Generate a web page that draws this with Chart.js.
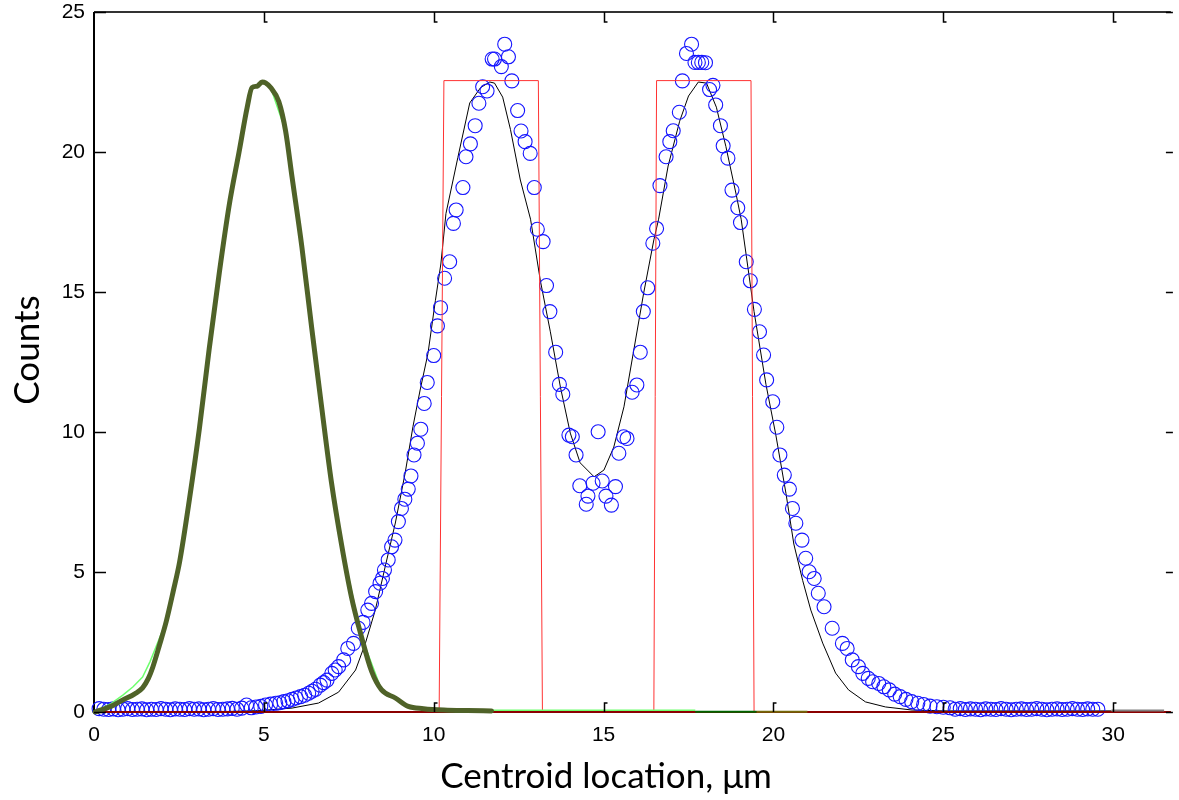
<!DOCTYPE html>
<html>
<head>
<meta charset="utf-8">
<title>Centroid location histogram</title>
<script src="https://cdn.jsdelivr.net/npm/chart.js@4.4.1/dist/chart.umd.min.js"></script>
<style>
  html, body { margin: 0; padding: 0; background: #fff; }
</style>
</head>
<body>
<canvas id="centroid-chart" width="1179" height="800"></canvas>
<script>
// measured counts per centroid bin [location um, counts]
const measured = [
  [0.15,0.12],[0.29,0.1],[0.43,0.09],[0.57,0.11],[0.71,0.08],[0.85,0.1],[0.99,0.12],
  [1.13,0.09],[1.27,0.1],[1.41,0.11],[1.55,0.08],[1.69,0.1],[1.83,0.09],[1.97,0.12],
  [2.11,0.1],[2.25,0.08],[2.39,0.11],[2.53,0.1],[2.67,0.09],[2.81,0.12],[2.95,0.1],
  [3.09,0.11],[3.23,0.08],[3.37,0.1],[3.51,0.12],[3.65,0.09],[3.79,0.1],[3.93,0.11],
  [4.07,0.13],[4.21,0.1],[4.35,0.14],[4.49,0.25],[4.63,0.15],[4.77,0.18],[4.91,0.2],
  [5.05,0.25],[5.2,0.28],[5.35,0.31],[5.47,0.33],[5.59,0.37],[5.71,0.4],[5.83,0.45],
  [5.95,0.5],[6.08,0.55],[6.2,0.6],[6.32,0.67],[6.42,0.74],[6.52,0.81],[6.66,0.96],
  [6.76,1.05],[6.86,1.14],[7.0,1.38],[7.1,1.5],[7.2,1.62],[7.35,1.86],[7.47,2.27],
  [7.64,2.45],[7.78,2.99],[7.92,3.2],[8.06,3.64],[8.17,3.88],[8.29,4.3],[8.42,4.6],
  [8.49,4.77],[8.55,5.07],[8.66,5.43],[8.76,5.9],[8.86,6.14],[8.96,6.8],[9.05,7.27],
  [9.15,7.6],[9.25,7.96],[9.33,8.43],[9.42,9.18],[9.52,9.6],[9.62,10.1],[9.72,11.02],
  [9.81,11.77],[10.0,12.73],[10.11,13.79],[10.2,14.44],[10.32,15.49],[10.47,16.08],
  [10.58,17.45],[10.66,17.93],[10.86,18.73],[10.95,19.83],[11.08,20.29],[11.22,20.94],
  [11.33,21.74],[11.44,22.33],[11.57,22.18],[11.72,23.32],[11.79,23.32],[11.99,23.05],
  [12.09,23.85],[12.2,23.4],[12.3,22.54],[12.47,21.48],[12.57,20.75],[12.69,20.37],
  [12.84,19.95],[12.96,18.73],[13.05,17.24],[13.22,16.8],[13.32,15.23],[13.42,14.3],
  [13.59,12.85],[13.7,11.7],[13.8,11.35],[13.98,9.89],[14.08,9.83],[14.19,9.18],
  [14.3,8.08],[14.49,7.42],[14.54,7.71],[14.69,8.17],[14.84,10.01],[14.96,8.25],
  [15.07,7.71],[15.23,7.39],[15.35,8.05],[15.45,9.24],[15.59,9.83],[15.69,9.77],
  [15.84,11.42],[15.98,11.68],[16.08,12.85],[16.17,14.3],[16.3,15.15],[16.45,16.74],
  [16.56,17.27],[16.66,18.8],[16.84,19.83],[16.95,20.37],[17.05,20.76],[17.23,21.42],
  [17.32,22.54],[17.44,23.52],[17.59,23.85],[17.69,23.2],[17.79,23.2],[17.89,23.2],
  [18.0,23.19],[18.12,22.23],[18.22,22.38],[18.3,21.68],[18.44,20.94],[18.52,20.22],
  [18.66,19.78],[18.78,18.64],[18.95,18.01],[19.03,17.48],[19.2,16.08],[19.32,15.4],
  [19.44,14.38],[19.59,13.58],[19.71,12.75],[19.8,11.86],[19.98,11.08],[20.1,10.17],
  [20.19,9.18],[20.32,8.46],[20.47,7.96],[20.56,7.27],[20.66,6.74],[20.84,6.14],
  [20.95,5.49],[21.05,5.01],[21.2,4.77],[21.32,4.24],[21.49,3.76],[21.73,2.99],
  [22.03,2.45],[22.17,2.27],[22.32,1.86],[22.5,1.62],[22.63,1.38],[22.79,1.2],
  [22.92,1.08],[23.1,1.02],[23.25,0.9],[23.41,0.79],[23.57,0.64],[23.73,0.55],
  [23.9,0.45],[24.07,0.37],[24.25,0.31],[24.42,0.27],[24.61,0.21],[24.81,0.19],
  [25.0,0.17],[25.2,0.15],[25.35,0.1],[25.5,0.12],[25.65,0.09],[25.8,0.11],[25.95,0.1],
  [26.1,0.08],[26.25,0.11],[26.4,0.1],[26.55,0.09],[26.7,0.12],[26.85,0.1],[27.0,0.08],
  [27.15,0.1],[27.3,0.11],[27.45,0.09],[27.6,0.1],[27.75,0.12],[27.9,0.1],[28.05,0.08],
  [28.2,0.1],[28.35,0.11],[28.5,0.09],[28.65,0.1],[28.8,0.12],[28.95,0.1],[29.1,0.09],
  [29.25,0.11],[29.4,0.1],[29.55,0.1]
];

// fitted double-peak profile
const fitCurve = [
  [0,0.01],[4.0,0.02],[4.86,0.05],[5.83,0.14],[6.61,0.32],[7.2,0.71],[7.7,1.5],
  [7.99,2.46],[8.28,3.64],[8.57,5.18],[8.87,6.75],[9.16,8.54],[9.39,10.2],[9.6,11.5],
  [9.83,12.8],[10.05,14.7],[10.21,16.0],[10.36,17.8],[10.71,19.8],[11.06,21.75],
  [11.38,22.3],[11.65,22.5],[11.79,22.46],[12.03,21.96],[12.26,20.8],[12.55,19.0],
  [12.85,17.6],[13.14,15.4],[13.43,13.6],[13.73,11.6],[14.02,9.96],[14.31,8.9],
  [14.72,8.4],[15.01,8.64],[15.3,9.46],[15.6,10.9],[15.9,13.0],[16.18,14.96],
  [16.48,16.86],[16.62,17.6],[16.9,19.5],[17.24,21.1],[17.5,22.0],[17.79,22.5],
  [18.03,22.46],[18.32,21.6],[18.6,20.2],[18.9,18.5],[19.05,17.6],[19.2,16.3],
  [19.43,14.3],[19.78,11.7],[20.07,9.9],[20.37,7.8],[20.6,6.0],[20.86,4.7],[21.1,3.64],
  [21.45,2.46],[21.83,1.39],[22.21,0.79],[22.71,0.36],[23.3,0.18],[24.08,0.07],
  [25.0,0.04],[29.95,0.04]
];

// two rectangular source profiles
const sourceBoxes = [
  [10.16,0],[10.3,22.55],[13.08,22.55],[13.2,0],[16.48,0],[16.56,22.55],[19.34,22.55],[19.43,0]
];

// single-peak reference profile
const singlePeak = [
  [0.03,0],[0.5,0.2],[0.85,0.43],[1.2,0.65],[1.43,0.86],[1.6,1.2],[1.73,1.6],[1.93,2.4],
  [2.13,3.25],[2.33,4.3],[2.52,5.36],[2.81,7.6],[3.1,10.1],[3.39,12.96],[3.69,15.7],
  [3.98,18.1],[4.27,20.0],[4.51,21.6],[4.65,22.3],[4.8,22.35],[4.95,22.5],[5.05,22.47],
  [5.2,22.3],[5.44,21.8],[5.64,20.75],[5.83,19.1],[6.12,16.6],[6.41,13.7],[6.7,10.9],
  [6.99,8.2],[7.29,5.96],[7.58,4.1],[7.87,2.7],[8.17,1.46],[8.46,0.8],[8.87,0.5],
  [9.25,0.2],[9.7,0.12],[10.3,0.07],[11.0,0.05],[11.7,0.04]
];

// thin trace underneath the single peak, running on along zero
const singleTrace = [
  [0,0],[0.5,0.3],[0.85,0.6],[1.15,0.9],[1.43,1.25],[1.65,1.8],[1.85,2.4],[2.13,3.25],
  [2.52,5.36],[3.1,10.1],[3.69,15.7],[4.27,20.0],[4.65,22.3],[4.95,22.5],[5.2,22.3],
  [5.64,20.75],[6.12,16.6],[6.7,10.9],[7.29,5.96],[7.87,2.7],[8.46,0.8],[9.25,0.2],
  [10.3,0.07],[11.7,0.06],[17.7,0.06]
];

const baseline = [[0,0],[31.7,0]];
const zeroDarkGreen = [[17.7,0.01],[19.5,0.01]];
const zeroOlive = [[19.5,0.01],[21.0,0.01]];
const zeroGray = [[29.95,0.05],[31.5,0.05]];

const xTicks = [0, 5, 10, 15, 20, 25, 30];
const yTicks = [0, 5, 10, 15, 20, 25];

function toPoints(list) {
  return list.map(p => ({ x: p[0], y: p[1] }));
}

function lineSet(data, color, width, order, extra) {
  return Object.assign({
    data: toPoints(data),
    showLine: true,
    borderColor: color,
    borderWidth: width,
    pointRadius: 0,
    fill: false,
    tension: 0,
    clip: false,
    order: order
  }, extra || {});
}

// axis frame (left, top, bottom) drawn below the data
const frame = {
  id: 'frame',
  beforeDatasetsDraw(chart) {
    const { ctx, chartArea: a } = chart;
    ctx.save();
    ctx.strokeStyle = '#000';
    ctx.lineWidth = 2;
    ctx.beginPath();
    ctx.moveTo(a.left, a.bottom);
    ctx.lineTo(a.left, a.top);
    ctx.stroke();
    ctx.strokeStyle = '#333';
    ctx.beginPath();
    ctx.moveTo(a.left, a.top);
    ctx.lineTo(a.right, a.top);
    ctx.stroke();
    ctx.lineWidth = 1;
    ctx.strokeStyle = '#000';
    ctx.beginPath();
    ctx.moveTo(a.left, a.bottom);
    ctx.lineTo(a.right, a.bottom);
    ctx.stroke();
    ctx.restore();
  }
};

// inward tick marks on all four sides, plus the axis titles
const innerTicks = {
  id: 'innerTicks',
  afterDraw(chart) {
    const { ctx, chartArea: a, scales } = chart;
    ctx.save();
    ctx.strokeStyle = '#000';
    ctx.lineWidth = 1.5;
    ctx.beginPath();
    xTicks.forEach(v => {
      const px = Math.round(scales.x.getPixelForValue(v)) + 0.5;
      if (v === 0) return;
      ctx.moveTo(px, a.top);
      ctx.lineTo(px, a.top + 10);
      ctx.lineTo(px + 3, a.top + 10);
      ctx.moveTo(px, a.bottom);
      ctx.lineTo(px, a.bottom - 9);
      ctx.lineTo(px + 3, a.bottom - 9);
    });
    yTicks.forEach(v => {
      const py = Math.round(scales.y.getPixelForValue(v)) + 0.5;
      ctx.moveTo(a.left, py);
      ctx.lineTo(a.left + 12, py);
      ctx.moveTo(a.right + 2, py);
      ctx.lineTo(a.right - 5, py);
    });
    ctx.stroke();

    ctx.fillStyle = '#000';
    ctx.font = '35px Lato, "Open Sans", sans-serif';
    ctx.textAlign = 'center';
    ctx.textBaseline = 'alphabetic';
    ctx.fillText('Centroid location, \u03bcm', 606, 788);
    ctx.translate(39, 350);
    ctx.rotate(-Math.PI / 2);
    ctx.fillText('Counts', 0, 0);
    ctx.restore();
  }
};

const tickFont = { family: '"Liberation Sans", Arial, sans-serif', size: 21 };

new Chart(document.getElementById('centroid-chart'), {
  type: 'scatter',
  data: {
    datasets: [
      {
        data: toPoints(measured),
        showLine: false,
        pointStyle: 'circle',
        pointRadius: 7,
        pointHoverRadius: 7,
        pointBorderWidth: 1.1,
        borderColor: 'rgb(20,20,255)',
        backgroundColor: 'rgba(0,0,0,0)',
        clip: false,
        order: 7
      },
      lineSet(fitCurve, '#000', 1, 8),
      lineSet(sourceBoxes, 'rgb(255,50,50)', 1, 6),
      lineSet(baseline, 'rgb(139,0,0)', 2, 5),
      lineSet(singleTrace, 'rgb(110,255,110)', 1.5, 4),
      lineSet(singlePeak, 'rgb(79,98,40)', 5, 3, { cubicInterpolationMode: 'monotone', borderCapStyle: 'round', borderJoinStyle: 'round' }),
      lineSet(zeroDarkGreen, 'rgb(0,100,0)', 2, 2),
      lineSet(zeroOlive, 'rgb(115,105,10)', 2, 2),
      lineSet(zeroGray, 'rgb(128,128,128)', 2, 2)
    ]
  },
  options: {
    responsive: false,
    animation: false,
    devicePixelRatio: 1,
    layout: { padding: { top: 12, right: 3, left: 0, bottom: 0 } },
    plugins: {
      legend: { display: false },
      tooltip: { enabled: false }
    },
    scales: {
      x: {
        type: 'linear',
        min: 0,
        max: 31.7,
        grid: { display: false, drawTicks: false },
        border: { display: false },
        afterBuildTicks: s => { s.ticks = xTicks.map(v => ({ value: v })); },
        afterFit: s => { s.height = 88; s.paddingLeft = 0; s.paddingRight = 0; },
        ticks: { font: tickFont, color: '#000', padding: 11, maxRotation: 0 }
      },
      y: {
        type: 'linear',
        min: 0,
        max: 25,
        grid: { display: false, drawTicks: false },
        border: { display: false },
        afterBuildTicks: s => { s.ticks = yTicks.map(v => ({ value: v })); },
        afterFit: s => { s.width = 94; s.paddingTop = 0; s.paddingBottom = 0; },
        ticks: { font: tickFont, color: '#000', padding: 9 }
      }
    }
  },
  plugins: [frame, innerTicks]
});
</script>
</body>
</html>
